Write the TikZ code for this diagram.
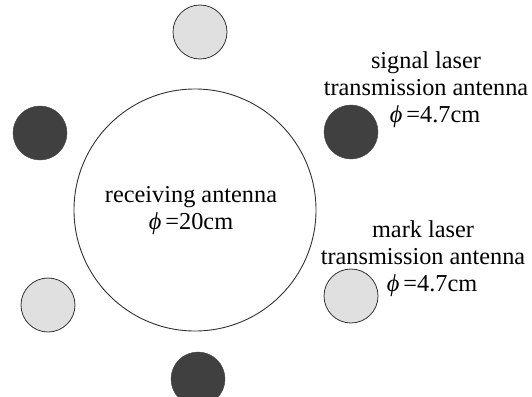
\documentclass[tikz,border=0pt]{standalone}
\usepackage{fontspec}
\setmainfont{Liberation Serif}
\begin{document}
\begin{tikzpicture}[x=1pt,y=-1pt,
  darkant/.style={circle,fill=black!75,draw=black!75,minimum size=54pt,inner sep=0pt},
  lightant/.style={circle,fill=black!12,draw=black!80,line width=0.8pt,minimum size=54pt,inner sep=0pt},
  recv/.style={circle,draw=black!80,line width=0.9pt,minimum size=242pt,inner sep=0pt},
  lbl/.style={font=\fontsize{24.3}{27}\selectfont,text=black,inner sep=0pt,align=center}]
\useasboundingbox (0,0) rectangle (532,396);
\node[recv] (rx) at (195,210) {};
\node[lightant] (top) at (200,32) {};
\node[darkant] (left) at (40,133) {};
\node[darkant] (right) at (351,132) {};
\node[lightant] (bl) at (48,305) {};
\node[lightant] (br) at (351,296) {};
\node[darkant] (bottom) at (198,379) {};
\node[lbl] (rxlbl) at (191,211) {receiving antenna\\\textit{ϕ}\,=20cm};
\node[lbl] (siglbl) at (426,90) {signal laser\\transmission antenna\\\hspace*{18pt}\textit{ϕ}\,=4.7cm};
\node[lbl] (marklbl) at (423,259) {mark laser\\transmission antenna\\\hspace*{18pt}\textit{ϕ}\,=4.7cm};
\end{tikzpicture}
\end{document}
